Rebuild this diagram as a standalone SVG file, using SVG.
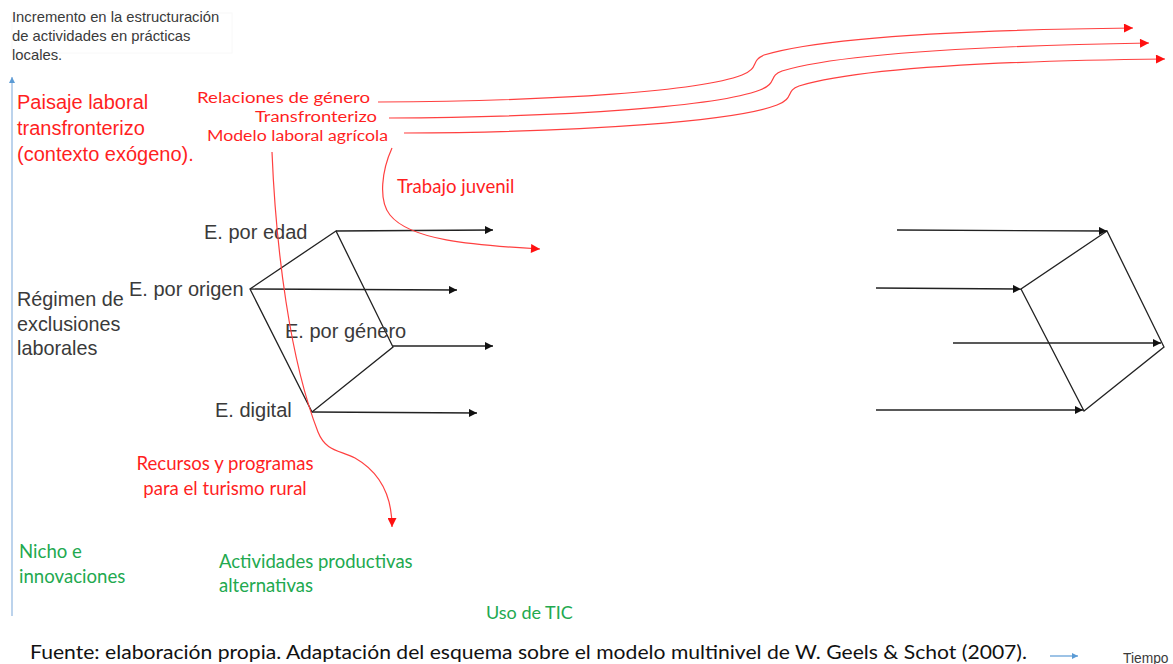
<svg xmlns="http://www.w3.org/2000/svg" width="1173" height="664" viewBox="0 0 1173 664">
<style>
.gray{font-family:"Liberation Sans",Arial,sans-serif;fill:#3a3a3a}
.cal{font-family:Lato,"Liberation Sans",sans-serif}
.red{fill:#ff1f1f}
.green{fill:#22a94f}
.blk{stroke:#222;stroke-width:1.3;fill:none}
.rl{stroke:#ff4040;stroke-width:1.2;fill:none}
</style>
<defs>
<marker id="ab" viewBox="0 0 10 10" refX="10" refY="5" markerWidth="10" markerHeight="8" markerUnits="userSpaceOnUse" orient="auto"><path d="M0,0L10,5L0,10z" fill="#111"/></marker>
<marker id="ar" viewBox="0 0 10 10" refX="10" refY="5" markerWidth="10" markerHeight="9" markerUnits="userSpaceOnUse" orient="auto"><path d="M0,0L10,5L0,10z" fill="#ff1010"/></marker>
<marker id="abl" viewBox="0 0 10 10" refX="10" refY="5" markerWidth="7" markerHeight="6" markerUnits="userSpaceOnUse" orient="auto"><path d="M0,0L10,5L0,10z" fill="#5b9bd5"/></marker>
</defs>
<rect width="1173" height="664" fill="#fff"/>

<g id="axis">
<line x1="12" y1="616" x2="12" y2="77" stroke="#8fb6e0" stroke-width="1.2" marker-end="url(#abl)"/>
</g>

<g id="title">
<rect x="12" y="13" width="220" height="40" fill="none" stroke="#f8f8f8"/>
<text class="gray" font-size="14.8"><tspan x="12" y="22">Incremento en la estructuración</tspan><tspan x="12" y="41">de actividades en prácticas</tspan><tspan x="12" y="60">locales.</tspan></text>
</g>

<g id="paisaje">
<text font-family="Liberation Sans,Arial,sans-serif" font-size="20" class="red"><tspan x="17" y="109">Paisaje laboral</tspan><tspan x="17" y="135">transfronterizo</tspan><tspan x="17" y="161">(contexto exógeno).</tspan></text>
</g>

<g id="landscape-labels" class="cal red" font-size="15.5">
<text x="197" y="103" textLength="173" lengthAdjust="spacingAndGlyphs">Relaciones de género</text>
<text x="255" y="122" textLength="122" lengthAdjust="spacingAndGlyphs">Transfronterizo</text>
<text x="207" y="141" textLength="181" lengthAdjust="spacingAndGlyphs">Modelo laboral agrícola</text>
<text x="397" y="193" font-size="18.6">Trabajo juvenil</text>
</g>

<g id="regimen">
<text class="gray" font-size="19.8"><tspan x="17" y="306">Régimen de</tspan><tspan x="17" y="331">exclusiones</tspan><tspan x="17" y="355">laborales</tspan></text>
</g>

<g id="cube-left">
<path class="blk" d="M336,231L250,289L312,412L393,347Z"/>
<text class="gray" font-size="20" x="204" y="239">E. por edad</text>
<text class="gray" font-size="20" x="129" y="296">E. por origen</text>
<text class="gray" font-size="20" x="285" y="338">E. por género</text>
<text class="gray" font-size="20" x="215" y="417">E. digital</text>
</g>

<g id="cube-right">
<path class="blk" d="M1107,231L1021,289L1084,411L1164,347Z"/>
</g>

<g id="recursos">
<text class="cal red" font-size="18.6" text-anchor="middle"><tspan x="225" y="470">Recursos y programas</tspan><tspan x="225" y="495">para el turismo rural</tspan></text>
</g>

<g id="nicho">
<text class="cal green" font-size="18.6"><tspan x="19" y="558">Nicho e</tspan><tspan x="19" y="583">innovaciones</tspan></text>
<text class="cal green" font-size="18.5"><tspan x="219" y="568">Actividades productivas</tspan><tspan x="219" y="592">alternativas</tspan></text>
<text class="cal green" font-size="18" x="486" y="619">Uso de TIC</text>
</g>

<g id="connectors">
<line class="blk" x1="336" y1="231" x2="493" y2="230" marker-end="url(#ab)"/>
<line class="blk" x1="250" y1="289" x2="457" y2="290" marker-end="url(#ab)"/>
<line class="blk" x1="393" y1="346" x2="493" y2="346" marker-end="url(#ab)"/>
<line class="blk" x1="312" y1="412" x2="477" y2="413" marker-end="url(#ab)"/>
<line class="blk" x1="897" y1="230" x2="1107" y2="231" marker-end="url(#ab)"/>
<line class="blk" x1="876" y1="288" x2="1021" y2="289" marker-end="url(#ab)"/>
<line class="blk" x1="953" y1="343" x2="1161" y2="343" marker-end="url(#ab)"/>
<line class="blk" x1="876" y1="410" x2="1083" y2="410" marker-end="url(#ab)"/>
<path class="rl" d="M378,102 C560,101 700,91 742,75 C760,68 750,61 764,55 C820,38 950,30 1133,28" marker-end="url(#ar)"/>
<path class="rl" d="M389,118 C575,117 718,106 760,90 C778,83 768,76 782,71 C838,54 965,46 1149,43" marker-end="url(#ar)"/>
<path class="rl" d="M404,133 C590,132 735,121 777,105 C795,98 785,91 799,86 C855,69 980,61 1165,59" marker-end="url(#ar)"/>
<path class="rl" d="M272,152 C276,250 290,360 318,432 C326,452 340,450 355,458 C383,474 392,500 392,527" marker-end="url(#ar)"/>
<path class="rl" d="M392,148 C382,170 378,200 390,215 C410,240 470,245 540,249" marker-end="url(#ar)"/>
<line x1="1050" y1="656" x2="1078" y2="656" stroke="#5b9bd5" stroke-width="1.2" marker-end="url(#abl)"/>
</g>

<g id="footer">
<text class="cal" font-size="18.5" fill="#111" x="30" y="659" textLength="997" lengthAdjust="spacingAndGlyphs">Fuente: elaboración propia. Adaptación del esquema sobre el modelo multinivel de W. Geels &amp; Schot (2007).</text>
<text class="gray" font-size="13.8" x="1123" y="663">Tiempo</text>
</g>
</svg>
